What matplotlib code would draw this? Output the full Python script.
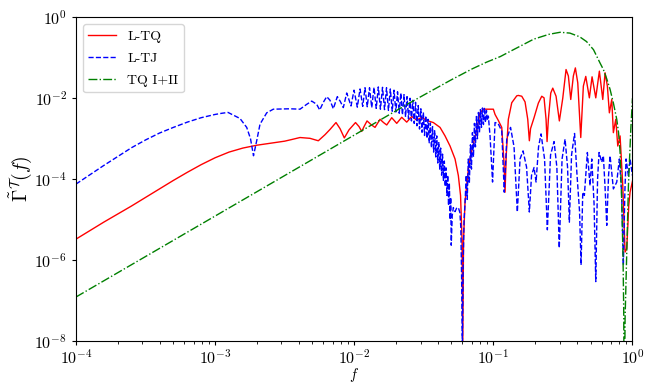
import numpy as np
import matplotlib
matplotlib.use('Agg')
import matplotlib.pyplot as plt
from matplotlib.ticker import NullLocator

plt.rcParams['font.family'] = 'serif'
plt.rcParams['font.serif'] = ['cmr10']
plt.rcParams['mathtext.fontset'] = 'cm'
plt.rcParams['axes.formatter.use_mathtext'] = True

# all curves stored as log10(f) and log10(Gamma)
ltq_logf = [-4.0, -3.9, -3.8, -3.7, -3.6, -3.5, -3.4, -3.3, -3.2, -3.1,
            -3.0, -2.9, -2.8, -2.7, -2.6, -2.5, -2.45,
            -2.3896, -2.3178, -2.2581, -2.21, -2.174, -2.131, -2.102, -2.0712, -2.0374, -1.9907,
            -1.9655, -1.9461, -1.9295, -1.908, -1.8792, -1.8505, -1.8145, -1.7893, -1.7664, -1.7304,
            -1.6945, -1.6585, -1.6226, -1.5866, -1.5507, -1.5147, -1.4788, -1.4313, -1.3832, -1.3472,
            -1.3113, -1.2753, -1.2516, -1.2358, -1.225, -1.22, -1.2142, -1.2035, -1.1797, -1.1553,
            -1.1193, -1.0956, -1.0719, -1.0359, -1.0, -0.9878, -0.964, -0.9396, -0.9231, -0.9159,
            -0.9073, -0.8922, -0.8677, -0.8318, -0.8203, -0.7958, -0.7721, -0.7527, -0.7412, -0.7326,
            -0.7074, -0.6765, -0.6521, -0.6355, -0.6211, -0.6139, -0.6046, -0.5873, -0.5729, -0.5492,
            -0.5255, -0.5011, -0.4774, -0.4608, -0.4436, -0.4249, -0.4105, -0.3932, -0.3717, -0.353,
            -0.3357, -0.3098, -0.2904, -0.2638, -0.2379, -0.2135, -0.197, -0.1804, -0.166, -0.1488,
            -0.1373, -0.12, -0.1057, -0.0891, -0.0697, -0.0532, -0.041, -0.0266, -0.0173, 0.0]
ltq_logg = [-5.48, -5.27, -5.06, -4.86, -4.66, -4.45, -4.24, -4.03, -3.83, -3.64,
            -3.47, -3.33, -3.23, -3.16, -3.11, -3.06, -3.02,
            -2.97, -2.99, -3.05, -2.90, -2.77, -2.60, -2.75, -2.98, -2.78, -2.60,
            -2.70, -2.82, -2.70, -2.56, -2.65, -2.72, -2.52, -2.60, -2.66, -2.48,
            -2.62, -2.47, -2.59, -2.45, -2.54, -2.47, -2.55, -2.60, -2.72, -2.93,
            -3.18, -3.50, -3.91, -4.40, -5.5, -8.2, -5.5, -4.56, -3.75, -3.3,
            -2.77, -2.36, -2.27, -2.27, -2.27, -2.40, -2.55, -2.72, -3.6, -4.32,
            -3.4, -2.52, -2.11, -1.94, -1.93, -1.95, -2.09, -2.52, -3.05, -2.75,
            -2.48, -2.12, -1.95, -1.99, -2.52, -3.07, -2.52, -1.87, -1.75, -1.95,
            -2.56, -2.0, -1.29, -1.45, -2.03, -1.45, -1.25, -1.62, -2.97, -1.70,
            -1.46, -1.99, -1.47, -1.99, -1.33, -2.03, -1.37, -1.70, -2.36, -2.03,
            -2.85, -2.52, -3.18, -2.93, -4.16, -5.8, -5.71, -4.65, -4.32, -4.05]

ltj_logf = [-4.0, -3.9, -3.8, -3.7, -3.6, -3.5, -3.4, -3.3, -3.2, -3.1,
            -3.0, -2.95, -2.9073, -2.821, -2.7728, -2.7455,
            -2.724, -2.701, -2.6772, -2.629, -2.5816, -2.4615, -2.3897, -2.3415, -2.3055, -2.2696,
            -2.248, -2.2221, -2.1977, -2.174, -2.1503, -2.1215, -2.0999, -2.0784, -2.0539, -2.023,
            -2.0015, -1.9777, -1.9583, -1.9389, -1.9224,
            -1.9066, -1.8900, -1.8742, -1.8577, -1.8419, -1.8268, -1.8117, -1.7966, -1.7822, -1.7678,
            -1.7541, -1.7405, -1.7268, -1.7139, -1.7009, -1.6887, -1.6765, -1.6650, -1.6535, -1.6420,
            -1.6312, -1.6204, -1.6096, -1.5989, -1.5888, -1.5787, -1.5687, -1.5593, -1.5492, -1.5399,
            -1.5306, -1.5212, -1.5126, -1.5032, -1.4946, -1.4860, -1.4774, -1.4694, -1.4608, -1.4529,
            -1.4450, -1.4371, -1.4292, -1.4220, -1.4141, -1.4069, -1.3997, -1.3925, -1.3853, -1.3789,
            -1.3717, -1.3652, -1.3587, -1.3523, -1.3458, -1.3400, -1.3336, -1.3278, -1.3221, -1.3163,
            -1.3106, -1.3063, -1.3027, -1.2955, -1.2876, -1.2754, -1.2646, -1.2516, -1.2408, -1.2336,
            -1.2279, -1.2229, -1.2164, -1.2106, -1.2035, -1.1948, -1.1876, -1.1797, -1.1726, -1.1646,
            -1.1574, -1.1503, -1.1431, -1.1359, -1.1287, -1.1215, -1.1143, -1.1071, -1.0999, -1.0927,
            -1.0856, -1.0784, -1.0712, -1.0640, -1.0568, -1.0496, -1.0424, -1.0360, -1.0237, -1.0057,
            -0.9878, -0.9662, -0.9396, -0.9216, -0.9037, -0.8764, -0.8512, -0.8275, -0.8081, -0.7865,
            -0.7613, -0.7412, -0.7254, -0.7074, -0.6930, -0.6751, -0.6571, -0.6319, -0.6118, -0.5888,
            -0.5636, -0.5435, -0.5262, -0.5061, -0.4845, -0.4666, -0.4536, -0.4378, -0.4163, -0.3983,
            -0.3803, -0.3695, -0.3573, -0.3458, -0.3242, -0.3048, -0.2926, -0.2761, -0.2638, -0.2509,
            -0.2401, -0.2207, -0.2092, -0.1970, -0.1848, -0.1718, -0.1610, -0.1373, -0.1129, -0.0942,
            -0.0784, -0.0654, -0.0546, -0.0460, -0.0295, -0.0173, 0.0]
ltj_logg = [-4.12, -3.89, -3.66, -3.44, -3.22, -3.03, -2.86, -2.72, -2.59, -2.48,
            -2.40, -2.37, -2.35, -2.50, -2.72, -3.0,
            -3.42, -3.05, -2.64, -2.36, -2.27, -2.26, -2.27, -2.15, -2.07, -2.15,
            -2.29, -2.10, -1.96, -2.05, -2.26, -1.96, -2.08, -2.23, -1.87, -2.19,
            -1.80, -2.22, -1.77, -2.20, -1.74,
            -2.21, -1.74, -2.23, -1.73, -2.25, -1.72, -2.27, -1.73, -2.28, -1.74,
            -2.30, -1.77, -2.32, -1.80, -2.34, -1.84, -2.37, -1.87, -2.41, -1.91,
            -2.46, -1.96, -2.51, -2.00, -2.56, -2.05, -2.62, -2.10, -2.68, -2.18,
            -2.76, -2.26, -2.84, -2.35, -2.92, -2.43, -2.99, -2.52, -3.10, -2.61,
            -3.22, -2.70, -3.33, -2.80, -3.45, -2.93, -3.60, -3.08, -3.75, -3.23,
            -3.90, -3.38, -4.03, -3.55, -4.18, -3.72, -4.40, -3.90, -4.65, -4.10,
            -5.0, -4.45, -5.63, -4.9, -4.70, -4.80, -4.72, -4.70, -4.82, -5.2,
            -6.5, -8.2, -6.0, -5.0, -4.6, -3.9, -4.5, -3.5, -4.1, -3.15,
            -3.75, -2.85, -3.45, -2.62, -3.2, -2.45, -3.0, -2.35, -2.85, -2.28,
            -2.72, -2.24, -2.65, -2.23, -2.6, -2.3, -2.55, -2.44, -2.93, -4.07,
            -2.60, -2.62, -2.81, -4.32, -3.01, -2.72, -3.2, -4.81, -3.5, -3.30,
            -3.7, -4.81, -3.9, -3.71, -4.07, -3.2, -2.88, -3.5, -5.25, -3.4,
            -3.07, -3.7, -5.7, -3.5, -3.01, -3.7, -5.06, -3.4, -2.87, -3.91,
            -4.8, -6.12, -4.32, -4.40, -3.34, -4.16, -3.50, -4.6, -6.53, -4.0,
            -3.34, -3.58, -3.42, -4.2, -5.14, -3.9, -3.42, -4.24, -4.07, -3.50,
            -4.3, -6.12, -4.3, -3.50, -3.91, -3.50, -3.91]

tq_logf = [-4.0, -3.875, -3.75, -3.625, -3.5, -3.375, -3.25, -3.125, -3.0, -2.875,
           -2.75, -2.625, -2.5, -2.375, -2.25, -2.125, -2.0, -1.875, -1.75, -1.625,
           -1.5, -1.4, -1.3, -1.15, -1.05, -0.95, -0.85, -0.71, -0.6, -0.52,
           -0.45, -0.38, -0.33, -0.28, -0.233, -0.209, -0.185, -0.161, -0.137, -0.113,
           -0.1, -0.089, -0.077, -0.068, -0.063, -0.059, -0.053, -0.041, -0.029, -0.012, 0.0]
tq_logg = [-6.91, -6.66, -6.41, -6.16, -5.91, -5.66, -5.41, -5.16, -4.91, -4.66,
           -4.41, -4.16, -3.91, -3.66, -3.41, -3.16, -2.91, -2.66, -2.41, -2.16,
           -1.92, -1.73, -1.54, -1.27, -1.11, -0.97, -0.79, -0.54, -0.42, -0.37,
           -0.39, -0.48, -0.6, -0.8, -1.13, -1.29, -1.52, -1.78, -2.12, -2.52,
           -2.85, -3.33, -4.56, -5.9, -7.2, -10.0, -7.43, -5.8, -4.16, -2.77, -2.0]

fig, ax = plt.subplots(figsize=(6.55, 3.82), dpi=100)
fig.subplots_adjust(left=0.116, right=0.9656, bottom=0.107, top=0.9547)

ax.loglog(10 ** np.array(ltq_logf), 10 ** np.array(ltq_logg), 'r-', lw=1.0, label='L-TQ')
ax.loglog(10 ** np.array(ltj_logf), 10 ** np.array(ltj_logg), 'b--', lw=1.0, label='L-TJ')
ax.loglog(10 ** np.array(tq_logf), 10 ** np.array(tq_logg), 'g-.', lw=1.0, label='TQ I+II')

ax.set_xlim(1e-4, 1e0)
ax.set_ylim(1e-8, 1e0)
ax.set_yticks([1e-8, 1e-6, 1e-4, 1e-2, 1e0])
ax.yaxis.set_minor_locator(NullLocator())
ax.tick_params(which='major', length=3, labelsize=11.5)
ax.tick_params(which='minor', length=1.8)
ax.tick_params(axis='x', pad=2)

ax.set_xlabel(r'$f$', fontsize=10.5)
ax.xaxis.set_label_coords(0.5, -0.076)
ax.set_ylabel(r'$\tilde{\Gamma}^{\mathcal{T}}(f)$', fontsize=14, labelpad=0)
ax.legend(loc='upper left', fontsize=10, labelspacing=0.68)

plt.savefig('out.png', dpi=100)
